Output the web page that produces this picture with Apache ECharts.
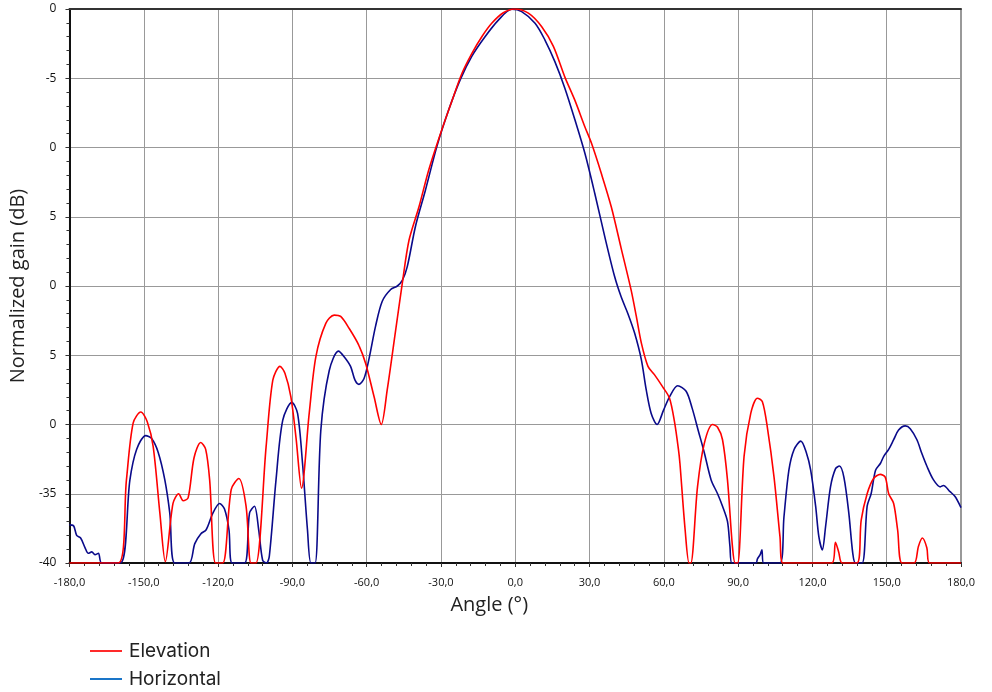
<!DOCTYPE html>
<html>
<head>
<meta charset="utf-8">
<script src="https://cdn.jsdelivr.net/npm/echarts@6/dist/echarts.min.js"></script>
<style>
html,body{margin:0;padding:0;background:#fff;}
#chart{width:992px;height:692px;}
</style>
</head>
<body>
<div id="chart"></div>
<script>
// ---- data ----
const seriesNames = ['Elevation', 'Horizontal'];

const elevAngle = [-180,-160.3,-157,-154.3,-151.2,-148.6,-146.2,-143.5,-141.3,-138.2,-135.9,-134.1,-132.1,-129.7,-127,-125,-123.4,-121,-118.1,-114.7,-111.6,-108.7,-106.7,-104.7,-100.6,-97.9,-95,-93,-90.6,-88.5,-86.3,-83.2,-80.5,-76.5,-73.1,-70.5,-67.1,-63.1,-60.4,-57,-54.1,-51.7,-48.3,-45.6,-42.9,-38.9,-34.9,-30.2,-25.5,-21.5,-17.5,-13.5,-9.5,-4.8,-0.3,5.3,10.7,15.4,20,24.1,28.1,30.8,34.8,38.8,42.8,46.8,48.9,50.9,53.6,56.2,59.6,62.3,64.3,65.9,66.5,68.6,70.2,70.9,73.6,76.3,79.7,81.7,83.7,85.7,87.7,88.8,89.8,92.4,95.1,97.8,99.8,101.8,104.5,106.9,108.1,127.9,129.3,130.6,132,138,139.7,142.1,144.7,147.4,149.4,150.8,152.8,154.4,156.2,161.1,162.8,164.4,166.2,167.3,180];
const elevGain = [-40,-40,-34,-29.9,-29.1,-29.8,-31.6,-36.4,-39.9,-35.7,-35,-35.5,-35.3,-32.4,-31.3,-31.8,-34,-40,-40,-34.7,-33.9,-35.9,-40,-40,-31.6,-26.8,-25.8,-26.3,-28,-31,-34.6,-29.2,-25.1,-22.7,-22.1,-22.2,-23.05,-24.3,-25.6,-28,-30,-27.5,-23.2,-19.8,-16.7,-14.3,-11.6,-9.0,-6.6,-4.64,-3.2,-2.0,-1.03,-0.27,0,-0.3,-1.28,-2.7,-4.9,-6.6,-8.5,-9.7,-11.9,-14.3,-17.3,-20.3,-22.2,-24.1,-25.8,-26.4,-27.3,-28.1,-29.8,-31.8,-32.8,-37.6,-40,-40,-34.5,-31.4,-30,-30.2,-31.1,-34,-38.8,-40,-40,-32.3,-29.2,-28.1,-28.35,-30.2,-33.8,-38.1,-40,-40,-38.5,-39.2,-40,-40,-36.9,-35,-33.9,-33.6,-33.8,-35,-35.7,-37.6,-40,-40,-38.8,-38.2,-38.9,-40,-40];

const horzAngle = [-180,-178.4,-177.1,-175.5,-173.7,-172.4,-171,-169.7,-168.3,-167,-159.4,-155.6,-152.9,-149.2,-146.9,-144.2,-141.5,-139.5,-137.5,-131.7,-129.4,-127,-124.8,-122.1,-119.4,-117.4,-115.6,-114.3,-109.3,-107.3,-105.3,-103.6,-102,-100.4,-99.3,-96.6,-93.9,-90.2,-87.9,-85.9,-83.9,-82.5,-80.8,-78.5,-75.1,-71.4,-69.1,-66.5,-64.7,-63.1,-61.1,-59.1,-56.4,-53.7,-50.3,-47.6,-45.6,-43.6,-40.3,-36.3,-31.6,-26.9,-22.2,-17.5,-12.2,-6.8,-1.4,2.6,8,12,16,20,24.1,28.1,32.1,36.1,40.1,42.8,45.5,48.2,50.9,52.9,54.9,57.3,59.8,62.3,65.6,69,71.4,74,76.3,79.1,81.7,83.7,85.7,86.7,87.5,97.2,97.8,98.9,99.6,100.3,106.9,108.5,110.5,112.6,115.3,117.5,119.3,121.3,122.6,124,125.3,127.3,129.3,130.9,132.7,134.7,136.3,137.4,140.1,142.1,143.7,145.5,147.5,148.8,150.8,152.8,154.8,157.5,159.5,162.2,164.2,166.2,168.9,171.6,172.9,175.6,177.6,180];
const horzGain = [-37.25,-37.3,-38,-38.2,-38.9,-39.3,-39.2,-39.4,-39.3,-40,-40,-34,-31.8,-30.8,-31,-32,-34,-36.4,-40,-40,-38.6,-37.9,-37.6,-36.4,-35.7,-36.1,-37.6,-40,-40,-36.4,-35.9,-37.6,-39.8,-40,-39.5,-34,-29.7,-28.4,-29.2,-32.8,-37.6,-40,-40,-30.4,-26.1,-24.7,-25.1,-25.8,-26.8,-27.1,-26.7,-25.3,-22.9,-21.1,-20.25,-20,-19.6,-18.6,-15.7,-13.1,-9.9,-7.3,-5.1,-3.4,-2.0,-0.8,-0.02,-0.19,-1.03,-2.24,-3.8,-5.7,-8.0,-10.4,-13.3,-16.4,-19.3,-20.8,-22.0,-23.4,-25.3,-27.5,-29.2,-30.0,-29,-28,-27.2,-27.6,-28.8,-30.5,-32.0,-34,-35,-35.9,-37,-38.8,-40,-40,-39.7,-39.4,-39.05,-40,-40,-36.7,-33.3,-31.8,-31.2,-32,-33.3,-35.9,-38.1,-39.05,-37.4,-34.5,-33.2,-33,-33.8,-36.4,-39.3,-40,-40,-35.9,-35,-33.3,-32.8,-32.3,-31.8,-31.1,-30.4,-30.1,-30.3,-31.1,-32.1,-33,-34,-34.5,-34.4,-34.85,-35.2,-36];

const yTickValues = [-40,-35,-30,-25,-20,-15,-10,-5,0];
const yTickLabels = ['-40','-35','0','5','0','5','0','-5','0'];

const xAxisTitle = 'Angle (°)';
const yAxisTitle = 'Normalized gain (dB)';

// ---- build ----
const zip = (a, b) => a.map((v, i) => [v, b[i]]);
const FONT = '"Open Sans", "DejaVu Sans", sans-serif';

const chart = echarts.init(document.getElementById('chart'), null, {renderer: 'canvas'});
chart.setOption({
  animation: false,
  backgroundColor: '#ffffff',
  grid: {left: 66, right: 31, top: 9, bottom: 129, show: true, borderColor: '#333', borderWidth: 1},
  legend: {
    orient: 'vertical',
    left: 90,
    top: 641,
    height: 50,
    padding: 0,
    itemWidth: 32,
    itemHeight: 2,
    itemGap: 8,
    icon: 'rect',
    textStyle: {fontFamily: 'Inter, "Open Sans", sans-serif', fontSize: 19, lineHeight: 20, color: '#222', padding: [0,0,0,2]},
    data: [
      {name: seriesNames[0], itemStyle: {color: '#ff2a2a'}},
      {name: seriesNames[1], itemStyle: {color: '#1a75c8'}}
    ]
  },
  xAxis: [{
    type: 'value', min: -180, max: 180, interval: 30,
    name: xAxisTitle, nameLocation: 'middle', nameGap: 32,
    nameTextStyle: {fontFamily: FONT, fontSize: 20, color: '#222', padding: [0, 52, 0, 0]},
    axisLine: {show: true, onZero: false, lineStyle: {color: '#111', width: 2}},
    axisTick: {show: true, length: 4, lineStyle: {color: '#333'}},
    minorTick: {show: true, splitNumber: 5, length: 3, lineStyle: {color: '#333'}},
    splitLine: {show: true, lineStyle: {color: '#999', width: 1}},
    axisLabel: {fontFamily: FONT, fontSize: 11, color: '#111', margin: 14,
      formatter: v => v.toFixed(1).replace('.', ',')}
  }, {
    type: 'value', min: -180, max: 180, position: 'top',
    axisLine: {show: true, lineStyle: {color: '#333', width: 2}},
    axisTick: {show: false}, axisLabel: {show: false}, splitLine: {show: false}
  }],
  yAxis: {
    type: 'value', min: -40, max: 0, interval: 5,
    name: yAxisTitle, nameLocation: 'middle', nameGap: 36,
    nameTextStyle: {fontFamily: FONT, fontSize: 20, color: '#222'},
    axisLine: {show: true, onZero: false, lineStyle: {color: '#111', width: 2}},
    axisTick: {show: true, length: 4, lineStyle: {color: '#333'}},
    minorTick: {show: true, splitNumber: 5, length: 3, lineStyle: {color: '#333'}},
    splitLine: {show: true, lineStyle: {color: '#999', width: 1}},
    axisLabel: {fontFamily: FONT, fontSize: 12, color: '#111', margin: 13,
      formatter: v => { const i = yTickValues.indexOf(v); return i >= 0 ? yTickLabels[i] : ''; }}
  },
  series: [
    {name: seriesNames[0], type: 'line', data: zip(elevAngle, elevGain), symbol: 'none', smooth: 0.3,
     lineStyle: {color: '#ff0000', width: 1.6}, itemStyle: {color: '#ff0000'}, z: 3},
    {name: seriesNames[1], type: 'line', data: zip(horzAngle, horzGain), symbol: 'none', smooth: 0.3,
     lineStyle: {color: '#0a0a8a', width: 1.6}, itemStyle: {color: '#0a0a8a'}, z: 2}
  ]
});
</script>
</body>
</html>
